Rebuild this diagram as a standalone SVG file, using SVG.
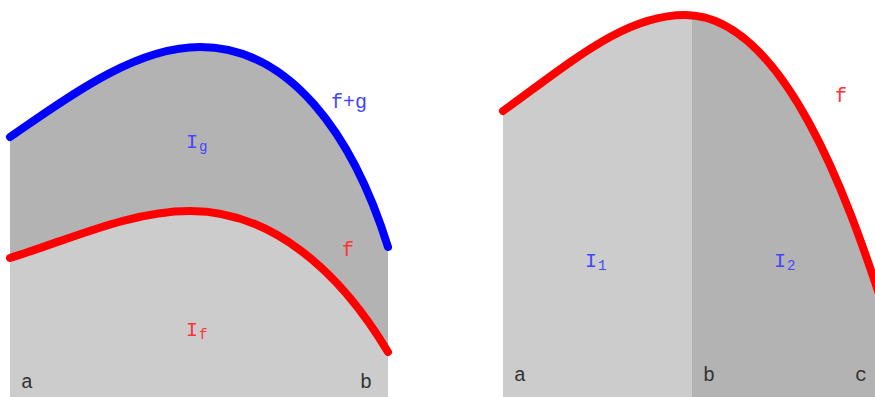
<svg xmlns="http://www.w3.org/2000/svg" width="875" height="397" viewBox="0 0 875 397">
<style>
.light{fill:#cccccc}
.dark{fill:#b3b3b3}
.curve{fill:none;stroke-width:8;stroke-linecap:round;stroke-linejoin:round}
.red{stroke:#ff0000}
.blue{stroke:#0000ff}
text{font-family:"Liberation Mono","Courier New",monospace;font-size:20px}
.sub{font-size:14px}
.lb{fill:#4444ff}
.lr{fill:#ff3333}
.lk{fill:#333333}
</style>
<defs>
<clipPath id="rightArea">
<path d="M503,111 C573,60.6 625,15 685,15 C785,15 850,207 880,297 L880,397 L503,397 Z"/>
</clipPath>
</defs>
<g id="left-panel">
<path id="area-g" class="dark" d="M10,137 C80,88 140,47 200,47 C290,47 353,135 388,247 L388,397 L10,397 Z"/>
<path id="area-f" class="light" d="M10,258 C70,239.4 130,211 190,211 C270,211 338,268.5 388,352 L388,397 L10,397 Z"/>
</g>
<g id="right-panel" clip-path="url(#rightArea)">
<rect id="area-1" class="light" x="503" y="0" width="189" height="397"/>
<rect id="area-2" class="dark" x="692" y="0" width="190" height="397"/>
</g>
<g id="connectors">
<path id="curve-fg" class="curve blue" d="M10,137 C80,88 140,47 200,47 C290,47 353,135 388,247"/>
<path id="curve-f-left" class="curve red" d="M10,258 C70,239.4 130,211 190,211 C270,211 338,268.5 388,352"/>
<path id="curve-f-right" class="curve red" d="M503,111 C573,60.6 625,15 685,15 C785,15 850,207 880,297"/>
</g>
<g id="labels-left">
<text class="lb" x="331" y="108">f+g</text>
<text class="lb" x="186" y="148">I<tspan class="sub" x="199" y="151">g</tspan></text>
<text class="lr" x="342" y="256">f</text>
<text class="lr" x="186" y="336">I<tspan class="sub" x="199" y="339">f</tspan></text>
<text class="lk" x="21" y="388">a</text>
<text class="lk" x="360" y="388">b</text>
</g>
<g id="labels-right">
<text class="lr" x="835" y="102">f</text>
<text class="lb" x="585" y="267">I<tspan class="sub" x="598" y="270">1</tspan></text>
<text class="lb" x="774" y="267">I<tspan class="sub" x="787" y="270">2</tspan></text>
<text class="lk" x="514" y="381">a</text>
<text class="lk" x="703" y="381">b</text>
<text class="lk" x="855" y="381">c</text>
</g>
</svg>
